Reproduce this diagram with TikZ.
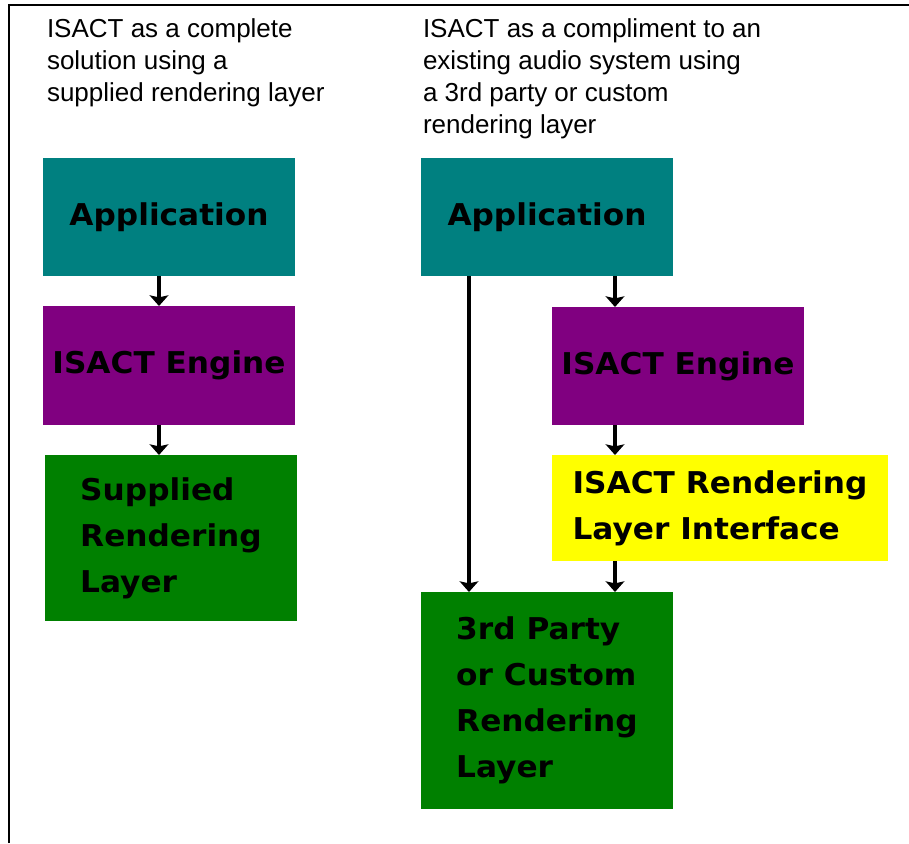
\documentclass[tikz,border=0pt]{standalone}
\usepackage{fontspec}
\setmainfont{Liberation Sans}
\newfontfamily\boxfont{DejaVu Sans Bold}[FakeStretch=1.04]
\usetikzlibrary{arrows.meta}
\definecolor{cteal}{HTML}{008080}
\definecolor{cpurple}{HTML}{800080}
\definecolor{cgreen}{HTML}{008000}
\definecolor{cyellow}{HTML}{FFFF00}
\tikzset{
  blk/.style={fill=#1, draw=none, inner sep=0pt, outer sep=0pt, align=left,
    font=\boxfont\fontsize{22.5pt}{34.5pt}\selectfont, text=black},
  hdr/.style={anchor=north west, inner sep=0pt, outer sep=0pt, align=left,
    font=\fontsize{19.5pt}{24pt}\selectfont, text=black},
  conn/.style={draw=black, line width=2.4pt},
  tip/.style={-{Stealth[width=14pt,length=8pt,inset=1.5pt]}},
  frame/.style={line width=1.5pt}
}
\begin{document}
\begin{tikzpicture}[x=0.75pt,y=-0.75pt]
\useasboundingbox (0,0) rectangle (909,843);
\fill[white] (0,0) rectangle (909,843);
\draw[frame] (9,843) -- (9,5) -- (909,5);

\node[hdr] (hl) at (47,18.7) {ISACT as a complete\\solution using a\\supplied rendering layer};
\node[hdr] (hr) at (423,18.7) {ISACT as a compliment to an\\existing audio system using\\a 3rd party or custom\\rendering layer};

% left column
\node[blk=cteal, minimum width=189pt, minimum height=88.5pt] (appL) at (169,217) {Application};
\node[blk=cpurple, minimum width=189pt, minimum height=89.25pt] (engL) at (169,365.5) {ISACT Engine};
\node[blk=cgreen, minimum width=189pt, minimum height=124.5pt] (supL) at (171,538) {Supplied\\Rendering\\Layer};

% right column
\node[blk=cteal, minimum width=189pt, minimum height=88.5pt] (appR) at (547,217) {Application};
\node[blk=cpurple, minimum width=189pt, minimum height=88.5pt] (engR) at (678,366) {ISACT Engine};
\node[blk=cyellow, minimum width=252pt, minimum height=79.5pt] (rli) at (720,508) {ISACT Rendering\\Layer Interface};
\node[blk=cgreen, minimum width=189pt, minimum height=162.75pt] (trd) at (547,700.5) {3rd Party\\or Custom\\Rendering\\Layer};

% arrows left
\draw[conn,tip] ([xshift=-7.5pt]appL.south) -- ([xshift=-7.5pt]engL.north);
\draw[conn,tip] ([xshift=-7.5pt]engL.south) -- ([xshift=-9pt]supL.north);

% arrows right
\draw[conn,tip] ([xshift=51pt]appR.south) -- ([xshift=-47.25pt]engR.north);
\draw[conn,tip] ([xshift=-47.25pt]engR.south) -- ([xshift=-78.75pt]rli.north);
\draw[conn,tip] ([xshift=-78.75pt]rli.south) -- ([xshift=51pt]trd.north);
\draw[conn,tip] ([xshift=-58.5pt]appR.south) -- ([xshift=-58.5pt]trd.north);
\end{tikzpicture}
\end{document}
